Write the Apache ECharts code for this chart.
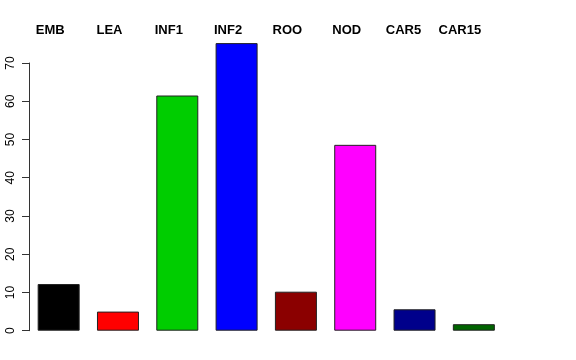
<!DOCTYPE html>
<html>
<head>
<meta charset="utf-8">
<script src="https://cdn.jsdelivr.net/npm/echarts@6/dist/echarts.min.js"></script>
<style>html,body{margin:0;padding:0;background:#fff;}#c{width:576px;height:360px;}</style>
</head>
<body>
<div id="c"></div>
<script>
const categories = ["EMB", "LEA", "INF1", "INF2", "ROO", "NOD", "CAR5", "CAR15"];
const values = [12.2, 5.0, 61.5, 75.2, 10.2, 48.6, 5.6, 1.7];
const barColors = ["#000000", "#FF0000", "#00CD00", "#0000FF", "#8B0000", "#FF00FF", "#00008B", "#006400"];
const yTicks = [0, 10, 20, 30, 40, 50, 60, 70];

const chart = echarts.init(document.getElementById('c'), null, {renderer: 'canvas'});
chart.setOption({
  animation: false,
  backgroundColor: '#ffffff',
  grid: {left: 29, right: 72.5, top: 63, bottom: 29.3, containLabel: false},
  xAxis: {
    type: 'category',
    position: 'top',
    data: categories,
    axisLine: {show: false},
    axisTick: {show: false},
    axisLabel: {
      interval: 0,
      hideOverlap: false,
      margin: 26,
      color: '#000',
      fontFamily: 'Liberation Sans, Arial, sans-serif',
      fontWeight: 'bold',
      fontSize: 13,
      formatter: function (v) {
        if (v === 'CAR5') return '{b|' + v + '}';
        if (v === 'CAR15') return '{c|' + v + '}';
        return '{a|' + v + '}';
      },
      rich: {
        a: {fontFamily: 'Liberation Sans, Arial, sans-serif', fontWeight: 'bold', fontSize: 13, color: '#000', padding: [0, 17, 0, 0]},
        b: {fontFamily: 'Liberation Sans, Arial, sans-serif', fontWeight: 'bold', fontSize: 13, color: '#000', padding: [0, 22, 0, 0]},
        c: {fontFamily: 'Liberation Sans, Arial, sans-serif', fontWeight: 'bold', fontSize: 13, color: '#000', padding: [0, 28, 0, 0]}
      }
    }
  },
  yAxis: {
    type: 'value',
    min: yTicks[0],
    max: yTicks[yTicks.length - 1],
    interval: 10,
    splitLine: {show: false},
    axisLine: {show: true, lineStyle: {color: '#333', width: 1}},
    axisTick: {show: true, length: 7, lineStyle: {color: '#333'}},
    axisLabel: {
      rotate: 90,
      margin: 12.5,
      color: '#000',
      fontFamily: 'Liberation Sans, Arial, sans-serif',
      fontSize: 12
    }
  },
  series: [{
    type: 'bar',
    clip: false,
    barWidth: 42,
    data: values.map((v, i) => ({value: v, itemStyle: {color: barColors[i], borderColor: '#222', borderWidth: 1}}))
  }]
});
</script>
</body>
</html>
